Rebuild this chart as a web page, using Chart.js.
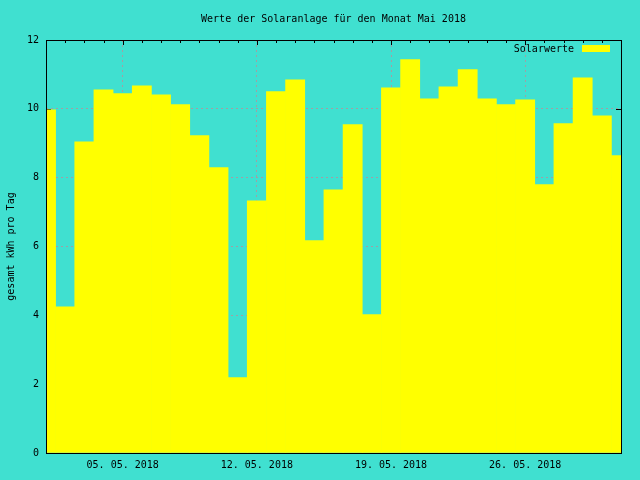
<!DOCTYPE html>
<html>
<head>
<meta charset="utf-8">
<title>Solaranlage Mai 2018</title>
<script src="https://cdn.jsdelivr.net/npm/chart.js@4/dist/chart.umd.min.js"></script>
<style>
    body { margin: 0; background: #40e0d0; }
    canvas { display: block; }
</style>
</head>
<body>
<canvas id="solar-chart" width="640" height="480"></canvas>
<script>
// Tageswerte Mai 2018 (kWh pro Tag)
const tage = [
    '01. 05. 2018', '02. 05. 2018', '03. 05. 2018', '04. 05. 2018', '05. 05. 2018',
    '06. 05. 2018', '07. 05. 2018', '08. 05. 2018', '09. 05. 2018', '10. 05. 2018',
    '11. 05. 2018', '12. 05. 2018', '13. 05. 2018', '14. 05. 2018', '15. 05. 2018',
    '16. 05. 2018', '17. 05. 2018', '18. 05. 2018', '19. 05. 2018', '20. 05. 2018',
    '21. 05. 2018', '22. 05. 2018', '23. 05. 2018', '24. 05. 2018', '25. 05. 2018',
    '26. 05. 2018', '27. 05. 2018', '28. 05. 2018', '29. 05. 2018', '30. 05. 2018',
    '31. 05. 2018'
];
const solarwerte = [
    9.97, 4.25, 9.04, 10.55, 10.44, 10.67, 10.41, 10.12, 9.22, 8.29,
    2.19, 7.33, 10.50, 10.84, 6.17, 7.65, 9.54, 4.02, 10.61, 11.43,
    10.29, 10.64, 11.14, 10.29, 10.12, 10.26, 7.80, 9.57, 10.90, 9.80,
    8.64
];
const xTickTage = ['05. 05. 2018', '12. 05. 2018', '19. 05. 2018', '26. 05. 2018'];
const yTicks = [0, 2, 4, 6, 8, 10, 12];

const titel = 'Werte der Solaranlage für den Monat Mai 2018';
const legendeText = 'Solarwerte';
const font = 'DejaVu Sans Mono';

// gnuplot look: background, frame, inner ticks, title, legend
const gnuplotFrame = {
    id: 'gnuplotFrame',
    beforeDraw(chart) {
        const ctx = chart.ctx;
        ctx.save();
        ctx.fillStyle = '#40e0d0';
        ctx.fillRect(0, 0, chart.width, chart.height);
        ctx.restore();
    },
    beforeDatasetsDraw(chart) {
        const {ctx, chartArea: a, scales} = chart;
        ctx.save();
        ctx.strokeStyle = '#000';
        ctx.lineWidth = 1;
        ctx.beginPath();
        yTicks.forEach(v => {
            const y = Math.round(scales.y.getPixelForValue(v)) + 0.5;
            ctx.moveTo(a.left, y); ctx.lineTo(a.left + 5, y);
            ctx.moveTo(a.right, y); ctx.lineTo(a.right - 5, y);
        });
        tage.forEach((t, i) => {
            const x = Math.round(scales.x.getPixelForValue(i)) + 0.5;
            const len = xTickTage.includes(t) ? 5 : 3;
            ctx.moveTo(x, a.top); ctx.lineTo(x, a.top + len);
        });
        ctx.stroke();
        ctx.restore();
    },
    afterDatasetsDraw(chart) {
        const {ctx, chartArea: a} = chart;
        ctx.save();
        ctx.strokeStyle = '#000';
        ctx.lineWidth = 1;
        ctx.strokeRect(Math.round(a.left) + 0.5, Math.round(a.top) + 0.5,
            Math.round(a.right - a.left), Math.round(a.bottom - a.top));

        ctx.fillStyle = '#000';
        ctx.font = '10px "' + font + '"';
        ctx.textBaseline = 'middle';
        ctx.textAlign = 'center';
        ctx.fillText(titel, (a.left + a.right) / 2, 19);

        ctx.textAlign = 'right';
        ctx.fillText(legendeText, a.right - 47, 49);
        ctx.fillStyle = '#ffff00';
        ctx.fillRect(a.right - 39, 45, 28, 7);
        ctx.restore();
    }
};

const solarChart = document.getElementById('solar-chart');

new Chart(solarChart, {
    type: 'bar',
    data: {
        labels: tage,
        datasets: [{
            label: legendeText,
            data: solarwerte,
            backgroundColor: '#ffff00',
            borderWidth: 0,
            barPercentage: 1,
            categoryPercentage: 1
        }]
    },
    options: {
        responsive: false,
        animation: false,
        events: [],
        layout: {
            padding: {top: 40, right: 19, left: 0, bottom: 0}
        },
        scales: {
            x: {
                offset: false,
                afterBuildTicks: scale => {
                    scale.ticks = scale.ticks.filter(t => xTickTage.includes(tage[t.value]));
                },
                afterFit: scale => { scale.height = 27; },
                ticks: {
                    autoSkip: false,
                    maxRotation: 0,
                    padding: 6,
                    color: '#000',
                    font: {family: font, size: 10}
                },
                grid: {
                    offset: false,
                    color: '#a0a0a4',
                    drawTicks: false
                },
                border: {display: false, dash: [2, 3]}
            },
            y: {
                min: 0,
                max: 12,
                afterBuildTicks: scale => {
                    scale.ticks = yTicks.map(v => ({value: v}));
                },
                afterFit: scale => { scale.width = 46; },
                ticks: {
                    padding: 7,
                    color: '#000',
                    font: {family: font, size: 10}
                },
                grid: {
                    color: '#a0a0a4',
                    drawTicks: false
                },
                border: {display: false, dash: [2, 3]},
                title: {
                    display: true,
                    text: 'gesamt kWh pro Tag',
                    color: '#000',
                    font: {family: font, size: 10},
                    padding: {top: 5, bottom: 0}
                }
            }
        },
        plugins: {
            legend: {display: false},
            title: {display: false},
            tooltip: {enabled: false}
        }
    },
    plugins: [gnuplotFrame]
});
</script>
</body>
</html>
